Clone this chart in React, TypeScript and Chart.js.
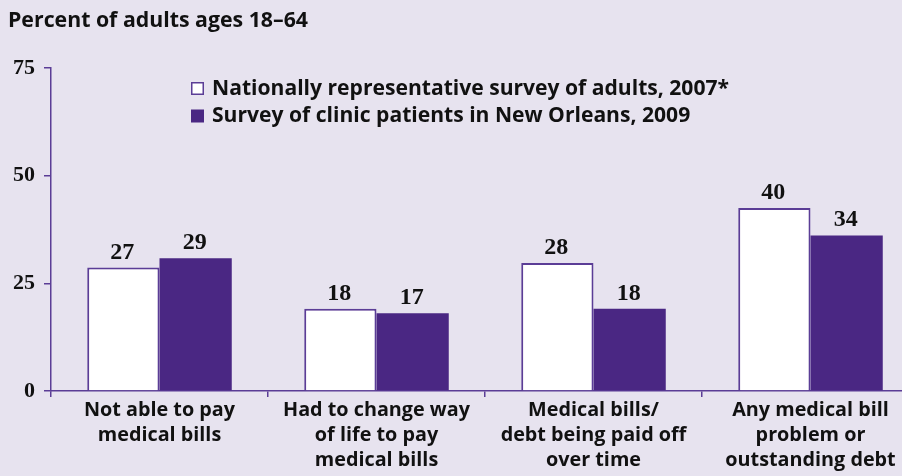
import { useEffect, useRef } from "react";
import { Chart, registerables } from "chart.js";

Chart.register(...registerables);

// ---- data ----
const categories: string[][] = [
  ["Not able to pay", "medical bills"],
  ["Had to change way", "of life to pay", "medical bills"],
  ["Medical bills/", "debt being paid off", "over time"],
  ["Any medical bill", "problem or", "outstanding debt"],
];
const seriesNames = [
  "Nationally representative survey of adults, 2007*",
  "Survey of clinic patients in New Orleans, 2009",
];
const national2007 = [27, 18, 28, 40];
const clinic2009 = [29, 17, 18, 34];
const yTickLabels = [0, 25, 50, 75];
// In the source figure the printed axis is ~6% compressed relative to the bars.
const yAxisStretch = 1.062;
const titleText = "Percent of adults ages 18\u201364";

// ---- styles ----
const BG = "#e7e3ef";
const PURPLE = "#4a2783";
const AXIS = "#5b3d96";
const TEXT = "#111111";
const SANS = "'Open Sans', Lato, sans-serif";
const SERIF = "'Liberation Serif', 'DejaVu Serif', serif";

const overlayPlugin = {
  id: "overlay",
  afterDatasetsDraw(chart: any) {
    const ctx = chart.ctx as CanvasRenderingContext2D;
    ctx.save();
    // value labels
    ctx.fillStyle = TEXT;
    ctx.font = `bold 24px ${SERIF}`;
    ctx.textAlign = "center";
    ctx.textBaseline = "alphabetic";
    chart.data.datasets.forEach((ds: any, di: number) => {
      const meta = chart.getDatasetMeta(di);
      meta.data.forEach((el: any, i: number) => {
        ctx.fillText(String(ds.data[i]), el.x - 1, el.y - 9);
      });
    });
    // title
    ctx.textAlign = "left";
    ctx.font = `bold 21.3px ${SANS}`;
    ctx.fillText(titleText, 8, 27);
    // legend
    const lx = 191;
    const rows = [88.5, 116];
    ctx.font = `bold 21.1px ${SANS}`;
    ctx.textBaseline = "middle";
    rows.forEach((cy, i) => {
      if (i === 0) {
        ctx.fillStyle = "#ffffff";
        ctx.fillRect(lx, cy - 6.5, 13, 13);
        ctx.strokeStyle = AXIS;
        ctx.lineWidth = 1.5;
        ctx.strokeRect(lx + 0.75, cy - 5.75, 11.5, 11.5);
      } else {
        ctx.fillStyle = PURPLE;
        ctx.fillRect(lx, cy - 6.5, 13, 13);
      }
      ctx.fillStyle = TEXT;
      ctx.fillText(seriesNames[i], lx + 21, cy);
    });
    ctx.restore();
  },
};

export default function App() {
  const ref = useRef<HTMLCanvasElement | null>(null);
  useEffect(() => {
    if (!ref.current) return;
    const chart = new Chart(ref.current, {
      type: "bar",
      data: {
        labels: categories,
        datasets: [
          {
            label: seriesNames[0],
            data: national2007,
            backgroundColor: "#ffffff",
            borderColor: AXIS,
            borderWidth: 2,
          },
          {
            label: seriesNames[1],
            data: clinic2009,
            backgroundColor: PURPLE,
            borderColor: PURPLE,
            borderWidth: 0,
          },
        ],
      },
      options: {
        animation: false,
        responsive: false,
        devicePixelRatio: 1,
        layout: { padding: { top: 68, left: 0, right: 0, bottom: 0 } },
        datasets: { bar: { categoryPercentage: 0.666, barPercentage: 1 } },
        plugins: {
          legend: { display: false },
          title: { display: false },
          tooltip: { enabled: false },
        },
        scales: {
          x: {
            grid: {
              display: true,
              drawOnChartArea: false,
              drawTicks: true,
              tickLength: 6,
              color: AXIS,
              lineWidth: 1.5,
              offset: true,
            },
            border: { display: true, color: AXIS, width: 1.5 },
            ticks: {
              color: TEXT,
              font: { family: SANS, weight: "bold", size: 19.8, lineHeight: 1.26 },
              padding: 1,
              maxRotation: 0,
              autoSkip: false,
            },
            afterFit: (s: any) => {
              s.height = 85;
            },
          },
          y: {
            min: 0,
            max: 75 / yAxisStretch,
            afterBuildTicks: (s: any) => {
              s.ticks = yTickLabels.map((v) => ({ value: v / yAxisStretch }));
            },
            grid: {
              display: true,
              drawOnChartArea: false,
              drawTicks: true,
              tickLength: 7,
              color: AXIS,
              lineWidth: 1.5,
            },
            border: { display: true, color: AXIS, width: 1.5 },
            ticks: {
              color: TEXT,
              font: { family: SERIF, weight: "bold", size: 22 },
              padding: 9,
              callback: (_v: any, i: number) => String(yTickLabels[i]),
            },
            afterFit: (s: any) => {
              s.width = 51;
            },
          },
        },
      },
      plugins: [overlayPlugin],
    });
    return () => chart.destroy();
  }, []);
  return (
    <div
      style={{
        position: "fixed",
        left: 0,
        top: 0,
        width: 902,
        height: 476,
        overflow: "hidden",
        background: BG,
      }}
    >
      <canvas ref={ref} width={919} height={476} style={{ display: "block" }} />
    </div>
  );
}
